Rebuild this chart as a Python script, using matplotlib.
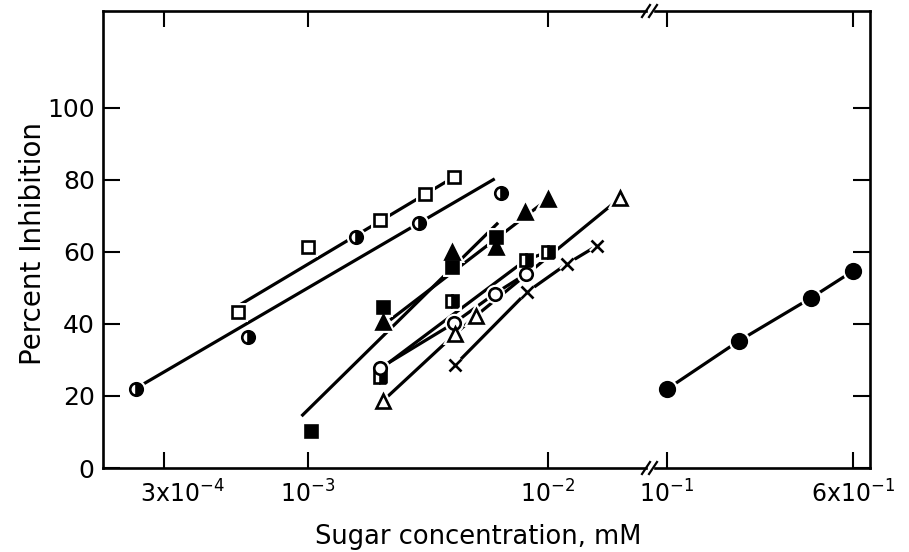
import numpy as np
import matplotlib
matplotlib.use("Agg")
import matplotlib.pyplot as plt
from matplotlib.lines import Line2D

plt.rcParams['font.family'] = ['DejaVu Sans']
plt.rcParams['mathtext.default'] = 'regular'

# open squares
sqo_x = [5.1e-4, 1.0e-3, 2.0e-3, 3.07e-3, 4.06e-3]
sqo_y = [43.3, 61.4, 68.9, 76.1, 80.8]
sqo_fit_x = [5.2e-4, 4.06e-3]
sqo_fit_y = [45.3, 80.8]

# half filled circles
hc_x = [1.92e-4, 5.6e-4, 1.58e-3, 2.9e-3, 6.4e-3]
hc_y = [21.9, 36.4, 64.2, 68.1, 76.4]
hc_fit_x = [2.0e-4, 6.0e-3]
hc_fit_y = [22.8, 80.3]

# filled squares
sqf_x = [1.03e-3, 2.05e-3, 4.0e-3, 6.1e-3]
sqf_y = [10.3, 44.7, 55.8, 64.2]
sqf_fit_x = [0.94e-3, 6.2e-3]
sqf_fit_y = [14.4, 68.1]

# filled triangles
trf_x = [2.05e-3, 4.0e-3, 6.1e-3, 8.0e-3, 1.0e-2]
trf_y = [40.6, 60.0, 61.4, 71.1, 74.7]
trf_fit_x = [2.2e-3, 1.0e-2]
trf_fit_y = [41.1, 74.7]

# half filled squares
hs_x = [2.0e-3, 4.0e-3, 8.1e-3, 1.0e-2]
hs_y = [25.3, 46.4, 57.8, 60.0]
hs_line_x = [2.05e-3, 8.1e-3, 1.0e-2]
hs_line_y = [28.0, 57.8, 60.0]

# open circles
co_x = [2.0e-3, 4.05e-3, 6.0e-3, 8.1e-3]
co_y = [27.8, 40.2, 48.4, 53.9]

# open triangles
tro_x = [2.05e-3, 4.1e-3, 5.0e-3, 2.0e-2]
tro_y = [18.6, 37.2, 42.2, 75.0]

# crosses
cr_x = [4.1e-3, 8.2e-3, 1.2e-2, 1.6e-2]
cr_y = [28.6, 48.9, 56.7, 61.7]

# filled circles (right panel)
cf_x = [0.1, 0.2, 0.4, 0.6]
cf_y = [21.9, 35.3, 47.2, 54.7]

# the printed 3x10^-4 tick sits left of its label, as in the original figure
left_ticks = [2.51e-4, 1e-3, 1e-2]
left_labels = ['', '10$^{-3}$', '10$^{-2}$']
left_label_extra = [3e-4]
left_label_extra_txt = ['3x10$^{-4}$']
right_ticks = [0.1, 0.6]
right_labels = ['10$^{-1}$', '6x10$^{-1}$']
y_ticks = [0, 20, 40, 60, 80, 100]

W, H = 909, 552
fig = plt.figure(figsize=(W / 100, H / 100), dpi=100)

def fx(px):
    return px / W

def fy(py):
    return 1 - py / H

bottom, top = 468, 11
ax1 = fig.add_axes([fx(103), fy(bottom), fx(646) - fx(103), fy(top) - fy(bottom)])
ax2 = fig.add_axes([fx(655), fy(bottom), fx(870) - fx(655), fy(top) - fy(bottom)])

for ax in (ax1, ax2):
    ax.set_xscale('log')
    ax.set_ylim(0, 126.9)
    ax.set_yticks(y_ticks)
    for s in ax.spines.values():
        s.set_linewidth(1.9)
    ax.tick_params(axis='x', which='major', direction='in', top=True, bottom=True,
                   length=11.5, width=1.5, labelsize=17, pad=9)
    ax.tick_params(axis='x', which='minor', length=0, labelsize=17, pad=9)
    ax.tick_params(axis='y', direction='in', length=12.5, width=1.5, labelsize=18, pad=6)

ax1.set_xlim(1.40e-4, 0.02561)
ax2.set_xlim(0.0891, 0.7069)
ax1.spines['right'].set_visible(False)
ax2.spines['left'].set_visible(False)
ax1.tick_params(axis='y', left=True, right=False)
ax2.tick_params(axis='y', left=False, right=True, labelleft=False, labelright=False)
ax1.set_xticks(left_ticks, labels=left_labels)
ax1.set_xticks(left_label_extra, labels=left_label_extra_txt, minor=True)
ax2.set_xticks(right_ticks, labels=right_labels)
ax2.set_xticks([], minor=True)

lw = 2.3

def series(ax, x, y, marker, ms, fill='full', face='black', lx=None, ly=None):
    if lx is None:
        lx, ly = x, y
    ax.plot(lx, ly, color='black', lw=lw, zorder=2, solid_capstyle='butt')
    # white halo so lines break around the symbols
    ax.plot(x, y, ls='none', marker=marker, ms=ms, mfc='white', mec='white',
            mew=5, zorder=3)
    ax.plot(x, y, ls='none', marker=marker, ms=ms, fillstyle=fill, mfc=face,
            mfcalt='white', mec='black', mew=1.9, zorder=4)

series(ax1, sqo_x, sqo_y, 's', 8.5, face='white', lx=sqo_fit_x, ly=sqo_fit_y)
series(ax1, hc_x, hc_y, 'o', 9, fill='right', lx=hc_fit_x, ly=hc_fit_y)
series(ax1, sqf_x, sqf_y, 's', 8.5, lx=sqf_fit_x, ly=sqf_fit_y)
series(ax1, trf_x, trf_y, '^', 10, lx=trf_fit_x, ly=trf_fit_y)
series(ax1, hs_x, hs_y, 's', 8.5, fill='right', lx=hs_line_x, ly=hs_line_y)
series(ax1, co_x, co_y, 'o', 9, face='white')
series(ax1, tro_x, tro_y, '^', 10, face='white')
series(ax1, cr_x, cr_y, 'x', 8.5)
series(ax2, cf_x, cf_y, 'o', 10.5)

fig.text(fx(33), fy(243), 'Percent Inhibition', fontsize=20, rotation=90,
         ha='center', va='center')
fig.text(fx(478), fy(537), 'Sugar concentration, mM', fontsize=18.5,
         ha='center', va='center')

# axis break marks
for yb in (top, bottom):
    for x0 in (642, 649):
        fig.add_artist(Line2D([fx(x0), fx(x0 + 8)], [fy(yb + 6), fy(yb - 6)],
                              color='black', lw=1.6))

fig.savefig('out.png', dpi=100)
